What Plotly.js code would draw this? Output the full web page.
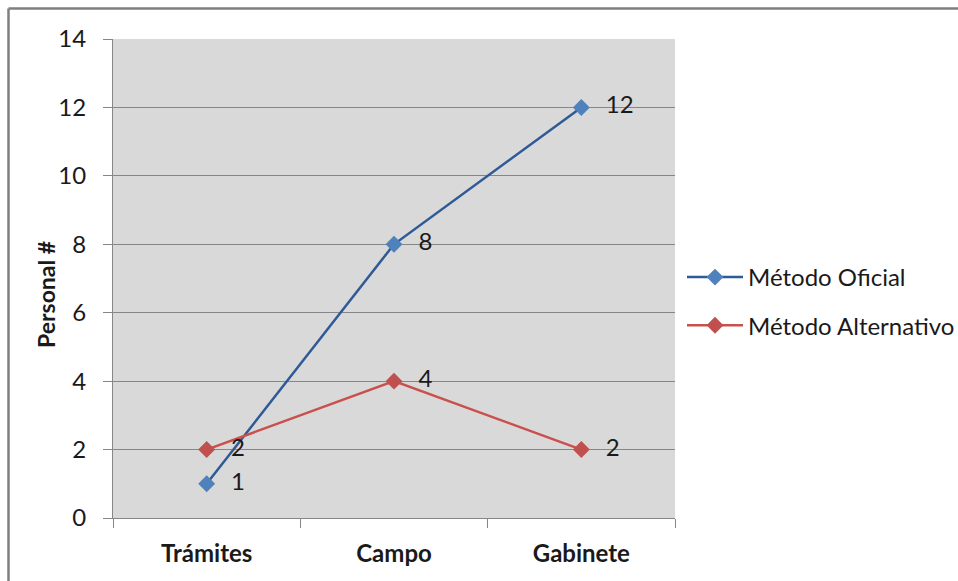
<!DOCTYPE html>
<html>
<head>
<meta charset="utf-8">
<script src="https://cdn.plot.ly/plotly-3.0.1.min.js"></script>
<style>html,body{margin:0;padding:0;background:#fff;}#chart{width:958px;height:581px;}</style>
</head>
<body>
<div id="chart"></div>
<script>
const categories = ["Trámites", "Campo", "Gabinete"];
const seriesNames = ["Método Oficial", "Método Alternativo"];
const oficial = [1, 8, 12];
const alternativo = [2, 4, 2];
const yTicks = [0, 2, 4, 6, 8, 10, 12, 14];
const yTitle = "Personal #";

const FONT = "Lato, 'Open Sans', sans-serif";
const PAD = "\u00a0\u00a0\u2009";

const traces = [
  {
    x: categories, y: oficial, name: seriesNames[0], legendgroup: "a",
    type: "scatter", mode: "lines+markers+text",
    text: oficial.map(v => PAD + v), textposition: "middle right",
    textfont: {family: FONT, size: 24, color: "#1a1a1a"},
    line: {color: "#2e5a96", width: 2.5},
    marker: {symbol: "diamond", size: 13, color: "#4f81bd"},
    cliponaxis: false
  },
  {
    x: categories, y: alternativo, name: seriesNames[1], legendgroup: "b",
    type: "scatter", mode: "lines+markers+text",
    text: alternativo.map(v => PAD + v), textposition: "middle right",
    textfont: {family: FONT, size: 24, color: "#1a1a1a"},
    line: {color: "#c9504d", width: 2.5},
    marker: {symbol: "diamond", size: 13, color: "#c0504d"},
    cliponaxis: false
  }
];

const L = 113, R = 675, T = 39, B = 518, W = 958, H = 581;
const pw = R - L, ph = B - T;
const px = v => (v - L) / pw;
const py = v => (B - v) / ph;

const layout = {
  width: W, height: H,
  margin: {l: L, r: W - R, t: T, b: H - B, pad: 0, autoexpand: false},
  paper_bgcolor: "#ffffff",
  plot_bgcolor: "#d9d9d9",
  font: {family: FONT, size: 24, color: "#1a1a1a"},
  showlegend: true,
  legend: {
    x: px(682), y: py(255), xanchor: "left", yanchor: "top",
    font: {family: FONT, size: 24, color: "#1a1a1a"},
    bgcolor: "rgba(0,0,0,0)", tracegroupgap: 14, itemwidth: 56
  },
  xaxis: {
    type: "category", range: [-0.5, 2.5],
    showgrid: false, zeroline: false,
    showline: true, linecolor: "#868686", linewidth: 1,
    ticks: "outside", ticklen: 9, tickcolor: "#868686", tickwidth: 1,
    tickson: "boundaries",
    tickfont: {family: FONT, size: 24, color: "#1a1a1a", weight: "bold"},
    ticklabelstandoff: 14
  },
  yaxis: {
    range: [0, 14], tickvals: yTicks, ticktext: yTicks.map(String),
    showgrid: true, gridcolor: "#868686", gridwidth: 1,
    zeroline: false,
    showline: true, linecolor: "#868686", linewidth: 1,
    ticks: "outside", ticklen: 9, tickcolor: "#868686",
    tickfont: {family: FONT, size: 24, color: "#1a1a1a"},
    ticklabelstandoff: 12
  },
  annotations: [
    {text: "<b>" + yTitle + "</b>", xref: "paper", yref: "paper", x: px(46), y: py(295),
     xanchor: "center", yanchor: "middle", textangle: -90, showarrow: false,
     font: {family: FONT, size: 23, color: "#1a1a1a"}}
  ],
  shapes: [
    {type: "line", xref: "paper", yref: "paper", x0: px(8.5), x1: px(8.5), y0: py(600), y1: py(8.5), line: {color: "#7f7f7f", width: 2.5}},
    {type: "line", xref: "paper", yref: "paper", x0: px(8.5), x1: px(980), y0: py(8.5), y1: py(8.5), line: {color: "#7f7f7f", width: 2.5}}
  ]
};

Plotly.newPlot("chart", traces, layout, {displayModeBar: false, staticPlot: true});
</script>
</body>
</html>
